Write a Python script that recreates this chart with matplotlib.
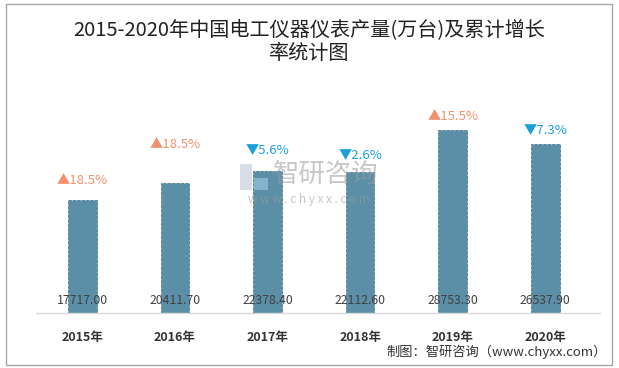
import numpy as np
import matplotlib.pyplot as plt
from matplotlib.patches import Rectangle

plt.rcParams['font.family'] = ['Noto Sans CJK SC', 'DejaVu Sans']

years = ["2015年", "2016年", "2017年", "2018年", "2019年", "2020年"]
output = [17717.00, 20411.70, 22378.40, 22112.60, 28753.30, 26537.90]
growth = [18.5, 18.5, 5.6, 2.6, 15.5, 7.3]
growth_up = [True, True, False, False, True, False]

# label offset above bar top (points)
label_offset = [14, 28, 14, 12, 10, 10]

bar_color = "#5B8FA8"
up_color = "#F0926E"
down_color = "#1A9FD9"

fig = plt.figure(figsize=(6.19, 3.68), dpi=100)
ax = fig.add_axes([36 / 619, 0.1495, 564 / 619, 0.6055])

x = np.arange(len(years))
ax.bar(x, output, width=0.31, color=bar_color, edgecolor="#4A7A92",
       linewidth=0.6, linestyle="--", zorder=2)

for i, v in enumerate(output):
    ax.text(i, 1000, f"{v:.2f}", ha="center", va="bottom",
            fontsize=8.8, color="#404040", zorder=3)
    sign = "▲" if growth_up[i] else "▼"
    col = up_color if growth_up[i] else down_color
    ax.annotate(f"{sign}{growth[i]}%", (i, v), xytext=(0, label_offset[i]),
                textcoords="offset points", ha="center", va="center",
                fontsize=9.5, color=col, zorder=3)

ax.set_xlim(-0.5, 5.59)
ax.set_ylim(0, 35000)
ax.set_xticks(x)
ax.set_xticklabels(years, fontsize=9, fontweight="bold", color="#333333")
ax.tick_params(axis="x", length=0, pad=13)
ax.set_yticks([])
for s in ["top", "left", "right"]:
    ax.spines[s].set_visible(False)
ax.spines["bottom"].set_color("#D9D9D9")
ax.spines["bottom"].set_linewidth(1)

# watermark
fig.text(0.527, 0.527, "智研咨询", fontsize=19, color="#9A9A9A", alpha=0.55,
         ha="center", va="center")
fig.text(0.499, 0.458, "w w w . c h y x x . c o m", fontsize=8.5,
         color="#9A9A9A", alpha=0.55, ha="center", va="center")
fig.patches.append(Rectangle((240 / 619, 1 - 190 / 368), 12 / 619, 26 / 368,
                             transform=fig.transFigure, facecolor="#B8C4D8",
                             alpha=0.55, edgecolor="none"))
fig.patches.append(Rectangle((254 / 619, 1 - 190 / 368), 14 / 619, 12 / 368,
                             transform=fig.transFigure, facecolor="#A8D0EA",
                             alpha=0.55, edgecolor="none"))

fig.text(0.5, 0.918, "2015-2020年中国电工仪器仪表产量(万台)及累计增长",
         ha="center", va="center", fontsize=14.5, color="#222222")
fig.text(0.5, 0.855, "率统计图", ha="center", va="center", fontsize=14.5,
         color="#222222")

fig.text(0.981, 0.043, "制图：智研咨询（www.chyxx.com）", ha="right",
         va="center", fontsize=9.5, color="#333333")

fig.patches.append(Rectangle((6 / 619, 3 / 368), 606 / 619, 361 / 368,
                             transform=fig.transFigure, fill=False,
                             edgecolor="#A6A6A6", linewidth=1))

fig.savefig("out.png", dpi=100)
